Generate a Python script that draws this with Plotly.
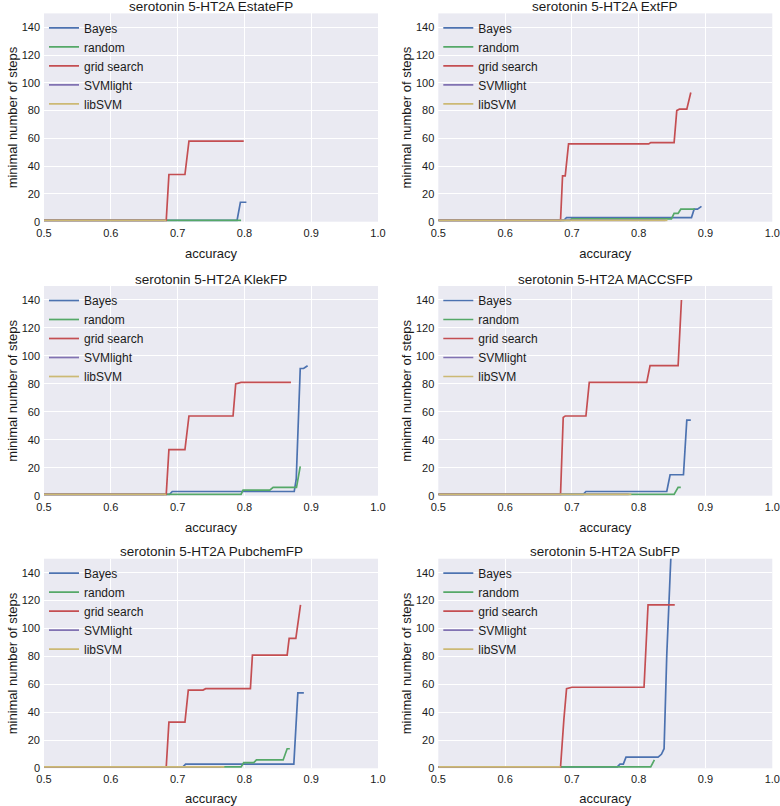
import plotly.graph_objects as go

# ---------------- data ----------------
panel_titles = [
    "serotonin 5-HT2A EstateFP", "serotonin 5-HT2A ExtFP",
    "serotonin 5-HT2A KlekFP", "serotonin 5-HT2A MACCSFP",
    "serotonin 5-HT2A PubchemFP", "serotonin 5-HT2A SubFP",
]
method_names = ["Bayes", "random", "grid search", "SVMlight", "libSVM"]
method_colors = ["#4C72B0", "#55A868", "#C44E52", "#8172B2", "#CCB974"]

x_ticks = [0.5, 0.6, 0.7, 0.8, 0.9, 1.0]
x_tick_labels = ["0.5", "0.6", "0.7", "0.8", "0.9", "1.0"]
y_ticks = [0, 20, 40, 60, 80, 100, 120, 140]
y_tick_labels = ["0", "20", "40", "60", "80", "100", "120", "140"]

# EstateFP
estate_bayes_x = [0.5, 0.789, 0.794, 0.803]
estate_bayes_y = [1, 1, 14, 14]
estate_random_x = [0.5, 0.795]
estate_random_y = [1, 1]
estate_grid_x = [0.5, 0.683, 0.687, 0.711, 0.717, 0.799]
estate_grid_y = [1, 1, 34, 34, 58, 58]
estate_svmlight_x = [0.5, 0.680]
estate_svmlight_y = [1, 1]
estate_libsvm_x = [0.5, 0.683]
estate_libsvm_y = [1, 1]

# ExtFP
ext_bayes_x = [0.5, 0.688, 0.692, 0.879, 0.883, 0.888, 0.894]
ext_bayes_y = [1, 1, 3, 3, 9, 9, 11]
ext_random_x = [0.5, 0.697, 0.700, 0.849, 0.853, 0.859, 0.863, 0.884]
ext_random_y = [1, 1, 2, 2, 6, 6, 9, 9]
ext_grid_x = [0.5, 0.683, 0.686, 0.690, 0.695, 0.815, 0.818, 0.853, 0.857, 0.861, 0.872, 0.878]
ext_grid_y = [1, 1, 33, 33, 56, 56, 57, 57, 80, 81, 81, 93]
ext_svmlight_x = [0.5, 0.840]
ext_svmlight_y = [1, 1]
ext_libsvm_x = [0.5, 0.843]
ext_libsvm_y = [1, 1]

# KlekFP
klek_bayes_x = [0.5, 0.688, 0.692, 0.8746, 0.8776, 0.8836, 0.8886, 0.8946]
klek_bayes_y = [1, 1, 3, 3, 12, 91, 91, 93]
klek_random_x = [0.5, 0.795, 0.798, 0.838, 0.843, 0.878, 0.8836]
klek_random_y = [1, 1, 4, 4, 6, 6, 21]
klek_grid_x = [0.5, 0.683, 0.687, 0.711, 0.717, 0.783, 0.787, 0.795, 0.8697]
klek_grid_y = [1, 1, 33, 33, 57, 57, 80, 81, 81]
klek_svmlight_x = [0.5, 0.680]
klek_svmlight_y = [1, 1]
klek_libsvm_x = [0.5, 0.683]
klek_libsvm_y = [1, 1]

# MACCSFP
maccs_bayes_x = [0.5, 0.717, 0.721, 0.842, 0.847, 0.867, 0.872, 0.878]
maccs_bayes_y = [1, 1, 3, 3, 15, 15, 54, 54]
maccs_random_x = [0.5, 0.853, 0.859, 0.863]
maccs_random_y = [1, 1, 6, 6]
maccs_grid_x = [0.5, 0.683, 0.687, 0.690, 0.721, 0.726, 0.812, 0.817, 0.859, 0.864]
maccs_grid_y = [1, 1, 56, 57, 57, 81, 81, 93, 93, 140]
maccs_svmlight_x = [0.5, 0.785]
maccs_svmlight_y = [1, 1]
maccs_libsvm_x = [0.5, 0.789]
maccs_libsvm_y = [1, 1]

# PubchemFP
pubchem_bayes_x = [0.5, 0.708, 0.712, 0.874, 0.880, 0.889]
pubchem_bayes_y = [1, 1, 3, 3, 54, 54]
pubchem_random_x = [0.5, 0.795, 0.799, 0.814, 0.818, 0.858, 0.864, 0.868]
pubchem_random_y = [1, 1, 4, 4, 6, 6, 14, 14]
pubchem_grid_x = [0.5, 0.683, 0.687, 0.711, 0.716, 0.738, 0.742, 0.809, 0.812, 0.864, 0.867, 0.877, 0.884]
pubchem_grid_y = [1, 1, 33, 33, 56, 56, 57, 57, 81, 81, 93, 93, 117]
pubchem_svmlight_x = [0.5, 0.765]
pubchem_svmlight_y = [1, 1]
pubchem_libsvm_x = [0.5, 0.770]
pubchem_libsvm_y = [1, 1]

# SubFP
sub_bayes_x = [0.5, 0.768, 0.772, 0.777, 0.781, 0.829, 0.834, 0.838, 0.842, 0.8468, 0.8485]
sub_bayes_y = [1, 1, 3, 3, 8, 8, 10, 14, 81, 146, 155]
sub_random_x = [0.5, 0.818, 0.8235]
sub_random_y = [1, 1, 6]
sub_grid_x = [0.5, 0.683, 0.688, 0.692, 0.700, 0.808, 0.814, 0.854]
sub_grid_y = [1, 1, 35, 57, 58, 58, 117, 117]
sub_svmlight_x = [0.5, 0.680]
sub_svmlight_y = [1, 1]
sub_libsvm_x = [0.5, 0.683]
sub_libsvm_y = [1, 1]

panels = [
    [(estate_bayes_x, estate_bayes_y), (estate_random_x, estate_random_y), (estate_grid_x, estate_grid_y),
     (estate_svmlight_x, estate_svmlight_y), (estate_libsvm_x, estate_libsvm_y)],
    [(ext_bayes_x, ext_bayes_y), (ext_random_x, ext_random_y), (ext_grid_x, ext_grid_y),
     (ext_svmlight_x, ext_svmlight_y), (ext_libsvm_x, ext_libsvm_y)],
    [(klek_bayes_x, klek_bayes_y), (klek_random_x, klek_random_y), (klek_grid_x, klek_grid_y),
     (klek_svmlight_x, klek_svmlight_y), (klek_libsvm_x, klek_libsvm_y)],
    [(maccs_bayes_x, maccs_bayes_y), (maccs_random_x, maccs_random_y), (maccs_grid_x, maccs_grid_y),
     (maccs_svmlight_x, maccs_svmlight_y), (maccs_libsvm_x, maccs_libsvm_y)],
    [(pubchem_bayes_x, pubchem_bayes_y), (pubchem_random_x, pubchem_random_y), (pubchem_grid_x, pubchem_grid_y),
     (pubchem_svmlight_x, pubchem_svmlight_y), (pubchem_libsvm_x, pubchem_libsvm_y)],
    [(sub_bayes_x, sub_bayes_y), (sub_random_x, sub_random_y), (sub_grid_x, sub_grid_y),
     (sub_svmlight_x, sub_svmlight_y), (sub_libsvm_x, sub_libsvm_y)],
]

# ---------------- layout geometry ----------------
W, H = 780, 806
x_doms = [[44 / W, 378 / W], [438.3 / W, 772.3 / W]]
y_doms = [[1 - 221.7 / H, 1 - 13.4 / H],
          [1 - 495.7 / H, 1 - 286.0 / H],
          [1 - 768.3 / H, 1 - 558.7 / H]]

FONT = "Liberation Sans, Arial, sans-serif"
TXT = "#1a1a1a"
BG = "#EAEAF2"

fig = go.Figure()
layout = dict(
    width=W, height=H,
    margin=dict(l=0, r=0, t=0, b=0),
    paper_bgcolor="white",
    plot_bgcolor=BG,
    font=dict(family=FONT, color=TXT, size=11),
    annotations=[],
    showlegend=True,
)

for i in range(6):
    row, col = i // 2, i % 2
    n = "" if i == 0 else str(i + 1)
    xa, ya = "x" + n, "y" + n
    lg = "legend" + n
    for j, (xs, ys) in enumerate(panels[i]):
        fig.add_trace(go.Scatter(
            x=xs, y=ys, mode="lines", name=method_names[j],
            line=dict(color=method_colors[j], width=1.7),
            xaxis=xa, yaxis=ya, legend=lg, hoverinfo="skip",
        ))
    xd, yd = x_doms[col], y_doms[row]
    layout["xaxis" + n] = dict(
        domain=xd, anchor=ya, range=[0.5, 1.0],
        tickvals=x_ticks, ticktext=x_tick_labels,
        showgrid=True, gridcolor="white", gridwidth=1, zeroline=False,
        showline=False, ticks="", ticklabelstandoff=3,
        tickfont=dict(size=11, color=TXT, family=FONT),
        title=dict(text="accuracy", font=dict(size=13, color=TXT, family=FONT), standoff=11),
        automargin=False, fixedrange=True,
    )
    layout["yaxis" + n] = dict(
        domain=yd, anchor=xa, range=[0, 150],
        tickvals=y_ticks, ticktext=y_tick_labels,
        showgrid=True, gridcolor="white", gridwidth=1, zeroline=False,
        showline=False, ticks="", ticklabelstandoff=3,
        tickfont=dict(size=11, color=TXT, family=FONT),
        title=dict(text="minimal number of steps", font=dict(size=13, color=TXT, family=FONT), standoff=1),
        automargin=False, fixedrange=True,
    )
    layout[lg] = dict(
        x=xd[0] + 0 / W, y=yd[1] - 0 / H, xanchor="left", yanchor="top",
        bgcolor="rgba(0,0,0,0)", borderwidth=0,
        font=dict(size=12, color=TXT, family=FONT),
    )
    layout["annotations"].append(dict(
        text=panel_titles[i], xref="paper", yref="paper",
        x=(xd[0] + xd[1]) / 2, y=yd[1] + 7 / H,
        xanchor="center", yanchor="middle", showarrow=False,
        font=dict(size=13.5, color=TXT, family=FONT),
    ))

fig.update_layout(**layout)
fig.write_html(
    "out.html",
    config={"displayModeBar": False},
    post_script="document.body.style.margin='0';document.body.style.overflow='hidden';",
)
